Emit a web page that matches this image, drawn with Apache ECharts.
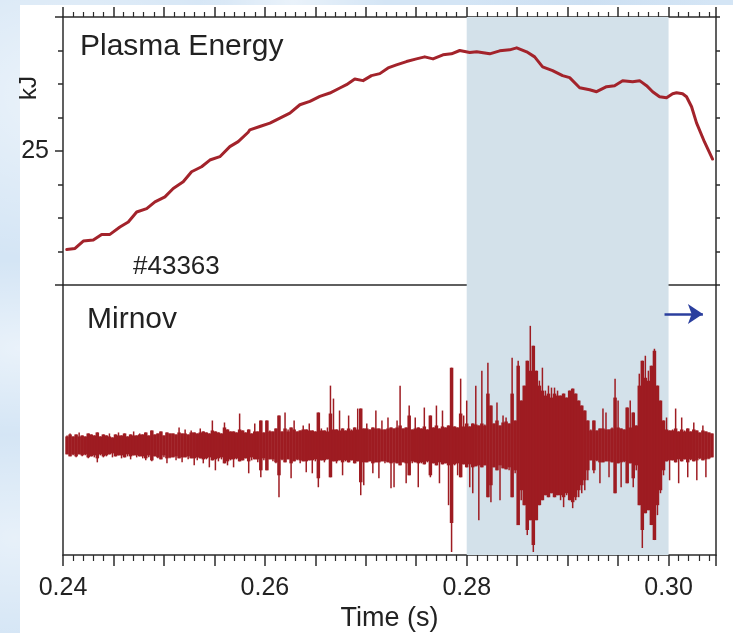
<!DOCTYPE html>
<html>
<head>
<meta charset="utf-8">
<script src="https://cdn.jsdelivr.net/npm/echarts@6/dist/echarts.min.js"></script>
<style>
  html, body { margin: 0; padding: 0; }
  body {
    width: 733px; height: 633px; overflow: hidden; position: relative;
    background-color: #d4e5f5;
    background-image:
      radial-gradient(ellipse at 8% 15%, rgba(255,255,255,0.55), rgba(255,255,255,0) 22%),
      radial-gradient(ellipse at 3% 55%, rgba(255,255,255,0.5), rgba(255,255,255,0) 18%),
      radial-gradient(ellipse at 2% 85%, rgba(255,255,255,0.45), rgba(255,255,255,0) 14%),
      radial-gradient(ellipse at 40% 0%, rgba(255,255,255,0.5), rgba(255,255,255,0) 15%),
      radial-gradient(ellipse at 80% 0%, rgba(200,220,240,0.6), rgba(255,255,255,0) 15%);
  }
  #paper { position: absolute; left: 20px; top: 5px; width: 713px; height: 628px; background: #ffffff; }
  #chart { position: absolute; left: 0; top: 0; width: 733px; height: 633px; }
</style>
</head>
<body>
<div id="paper"></div>
<div id="chart"></div>
<script>
// ---- Plasma energy (kJ) vs time (s) ----
const energyTime = [
  0.24037, 0.24119, 0.24201, 0.24300, 0.24383, 0.24465, 0.24564, 0.24647, 0.24730, 0.24829,
  0.24911, 0.25010, 0.25092, 0.25191, 0.25274, 0.25373, 0.25455, 0.25554, 0.25653, 0.25736,
  0.25835, 0.25851, 0.25950, 0.26050, 0.26149, 0.26248, 0.26347, 0.26446, 0.26545, 0.26644,
  0.26743, 0.26809, 0.26891, 0.26973, 0.27056, 0.27139, 0.27221, 0.27304, 0.27403, 0.27502,
  0.27584, 0.27666, 0.27765, 0.27849, 0.27931, 0.28030, 0.28099, 0.28228, 0.28327, 0.28426,
  0.28495, 0.28594, 0.28673, 0.28752, 0.28851, 0.28950, 0.29020, 0.29119, 0.29218, 0.29287,
  0.29386, 0.29465, 0.29545, 0.29644, 0.29713, 0.29782, 0.29842, 0.29911, 0.29980, 0.30040,
  0.30079, 0.30139, 0.30178, 0.30228, 0.30277, 0.30356, 0.30436
];
const energyKJ = [
  22.06, 22.09, 22.31, 22.34, 22.51, 22.51, 22.73, 22.88, 23.18, 23.28,
  23.48, 23.63, 23.88, 24.08, 24.38, 24.53, 24.73, 24.83, 25.13, 25.28,
  25.56, 25.63, 25.73, 25.83, 25.98, 26.13, 26.38, 26.48, 26.63, 26.73,
  26.88, 26.98, 27.15, 27.10, 27.25, 27.31, 27.48, 27.57, 27.67, 27.75,
  27.81, 27.75, 27.87, 27.90, 28.00, 27.94, 27.96, 27.90, 27.99, 28.02,
  28.08, 27.96, 27.81, 27.51, 27.40, 27.25, 27.19, 26.89, 26.83, 26.77,
  26.92, 26.95, 27.10, 27.07, 27.10, 26.95, 26.77, 26.62, 26.59, 26.71,
  26.74, 26.71, 26.62, 26.32, 25.84, 25.27, 24.76
];

// ---- Mirnov signal: per-sample max / min envelope (a.u.), one sample every mirnovStep seconds ----
const mirnovStart = 0.2404;
const mirnovStep = 0.0003;
const mirnovUpper = [
  10,12,9,11,13,10,9,12,11,10,
  13,9,11,10,12,8,11,13,10,12,
  9,11,14,10,12,11,13,10,15,11,
  12,14,10,13,12,12,11,18,12,16,
  11,15,13,12,17,14,13,12,25,14,
  13,12,23,16,14,
  14,13,32,15,13,
  16,12,22,14,25,13,25,15,14,17,
  30,14,33,16,18,25,14,15,20,16,
  22,15,14,33,17,15,18,60,47,16,
  35,17,15,30,16,18,37,37,17,22,
  16,18,35,17,25,16,28,18,17,25,
  60,
  17,18,40,16,28,18,17,38,16,
  30,18,40,17,35,18,20,78,19,18,
  67,30,45,19,22,60,20,75,21,83,
  40,22,43,20,30,28,22,88,25,85,
  45,
  60,85,120,100,75,65,78,55,60,
  58,58,55,50,52,48,55,57,52,45,
  40,35,25,
  16,25,15,17,37,33,16,
  18,67,45,17,16,38,45,33,20,72,
  85,90,75,80,97,60,45,25,
  28,15,16,37,14,28,15,17,14,23,15,13,20,14,13,12
];
const mirnovLower = [
  9,11,10,12,9,11,10,13,11,12,
  17,10,12,11,9,12,11,10,13,12,
  11,14,10,12,11,13,15,12,16,11,
  13,14,12,18,13,12,15,13,17,12,
  14,13,20,15,13,18,14,22,15,25,
  16,14,18,20,15,
  22,14,16,15,13,
  28,15,14,17,32,15,25,14,16,18,
  52,15,17,14,33,16,15,18,16,27,
  15,28,16,42,15,17,14,32,16,18,
  15,30,16,17,15,18,16,50,40,17,
  16,28,17,33,16,18,17,43,42,18,
  20,
  17,38,30,18,17,42,18,19,17,
  32,18,20,38,19,18,60,107,20,30,
  32,19,22,42,48,21,75,22,20,52,
  57,22,25,55,23,24,25,52,28,80,
  55,
  60,90,75,107,75,60,55,50,52,
  48,52,50,55,62,50,55,63,55,52,
  48,45,35,
  15,28,16,38,17,16,32,
  17,48,18,42,17,38,18,42,25,60,
  103,68,65,80,95,70,48,30,
  16,35,15,17,38,16,14,32,15,16,35,14,15,32,14,12
];

// ---- axis / annotation values ----
const xLabels = ['0.24', '0.26', '0.28', '0.30'];
const yLabels = ['25'];
const shadeRange = [0.28, 0.30];
const arrowFrom = [0.2996, 132];
const arrowTo = [0.3034, 132];

const FONT = "'Liberation Sans', Arial, Helvetica, sans-serif";
const AX = '#2b2b2b';
const RED_E = '#a3232b';
const RED_M = '#9e1c22';
const SHADE = '#d3e1ea';

const energyData = energyTime.map((t, i) => [t, energyKJ[i]]);
const mirnovData = mirnovUpper.map((u, i) => [mirnovStart + i * mirnovStep, u, -mirnovLower[i]]);

const axLine = { show: true, onZero: false, lineStyle: { color: AX, width: 1.5 } };
const xCommon = { type: 'value', min: 0.24, max: 0.3047, interval: 0.005, splitLine: { show: false } };

const chart = echarts.init(document.getElementById('chart'), null, { renderer: 'canvas' });
chart.setOption({
  animation: false,
  backgroundColor: 'transparent',
  textStyle: { fontFamily: FONT },
  grid: [
    { left: 63, top: 17, width: 653, height: 268 },
    { left: 63, top: 285, width: 653, height: 271 }
  ],
  xAxis: [
    Object.assign({}, xCommon, {
      gridIndex: 0, position: 'top', axisLine: axLine,
      axisTick: { show: true, inside: false, length: 10, lineStyle: { color: AX, width: 1.5 } },
      minorTick: { show: true, splitNumber: 5, length: 5, lineStyle: { color: AX, width: 1.2 } },
      axisLabel: { show: false }
    }),
    Object.assign({}, xCommon, {
      gridIndex: 0, position: 'bottom', axisLine: axLine,
      axisTick: { show: false }, minorTick: { show: false }, axisLabel: { show: false }
    }),
    Object.assign({}, xCommon, {
      gridIndex: 1, position: 'bottom', axisLine: axLine,
      axisTick: { show: true, inside: false, length: 11, lineStyle: { color: AX, width: 1.5 } },
      minorTick: { show: true, splitNumber: 5, length: 6, lineStyle: { color: AX, width: 1.2 } },
      axisLabel: {
        show: true, margin: 21, fontSize: 25, color: '#222', fontFamily: FONT,
        showMinLabel: true, showMaxLabel: false,
        formatter: v => { const s = v.toFixed(2); return (Math.abs(v - parseFloat(s)) < 1e-7 && xLabels.indexOf(s) >= 0) ? s : ''; }
      },
      name: 'Time (s)', nameLocation: 'middle', nameGap: 50,
      nameTextStyle: { fontSize: 27, color: '#222', fontFamily: FONT }
    })
  ],
  yAxis: [
    {
      gridIndex: 0, type: 'value', min: 21, max: 29, interval: 4, position: 'left',
      axisLine: axLine, splitLine: { show: false },
      axisTick: { show: true, inside: false, length: 8, lineStyle: { color: AX, width: 1.5 } },
      minorTick: { show: true, splitNumber: 4, length: 5, lineStyle: { color: AX, width: 1.5 } },
      axisLabel: {
        show: true, margin: 14, fontSize: 25, color: '#222', fontFamily: FONT,
        formatter: v => yLabels.indexOf(String(v)) >= 0 ? String(v) : ''
      }
    },
    {
      gridIndex: 0, type: 'value', min: 21, max: 29, interval: 4, position: 'right',
      axisLine: axLine, splitLine: { show: false },
      axisTick: { show: true, inside: false, length: 4, lineStyle: { color: AX, width: 1.5 } },
      minorTick: { show: true, splitNumber: 4, length: 4, lineStyle: { color: AX, width: 1.5 } },
      axisLabel: { show: false }
    },
    {
      gridIndex: 1, type: 'value', min: -110, max: 161, position: 'left',
      axisLine: axLine, splitLine: { show: false }, axisTick: { show: false }, axisLabel: { show: false }
    },
    {
      gridIndex: 1, type: 'value', min: -110, max: 161, position: 'right',
      axisLine: axLine, splitLine: { show: false }, axisTick: { show: false }, axisLabel: { show: false }
    }
  ],
  series: [
    {
      name: 'Plasma Energy', type: 'line', xAxisIndex: 0, yAxisIndex: 0,
      data: energyData, symbol: 'none', z: 3,
      lineStyle: { color: RED_E, width: 3, join: 'round', cap: 'round' },
      markArea: {
        silent: true, itemStyle: { color: SHADE },
        data: [[{ xAxis: shadeRange[0] }, { xAxis: shadeRange[1] }]]
      }
    },
    {
      name: 'shade', type: 'line', xAxisIndex: 2, yAxisIndex: 2, data: [], z: 1,
      markArea: {
        silent: true, itemStyle: { color: SHADE },
        data: [[{ xAxis: shadeRange[0] }, { xAxis: shadeRange[1] }]]
      },
      markLine: {
        silent: true, symbol: ['none', 'arrow'], symbolSize: 15,
        label: { show: false },
        lineStyle: { color: '#2b3f9e', width: 2.5, type: 'solid' },
        data: [[{ coord: arrowFrom }, { coord: arrowTo }]]
      }
    },
    {
      name: 'Mirnov', type: 'custom', xAxisIndex: 2, yAxisIndex: 2, z: 3, clip: true,
      data: mirnovData,
      encode: { x: 0, y: [1, 2] },
      renderItem: function (params, api) {
        const t = api.value(0), hi = api.value(1), lo = api.value(2);
        const core = Math.min(hi, -lo);
        const top = api.coord([t, hi]);
        const bot = api.coord([t, lo]);
        const cTop = api.coord([t, core]);
        const cBot = api.coord([t, -core]);
        const full = api.size([mirnovStep, 0])[0] + 0.5;
        const thin = 1.5;
        return {
          type: 'group',
          children: [
            { type: 'rect', shape: { x: cTop[0] - full / 2, y: cTop[1], width: full, height: cBot[1] - cTop[1] }, style: { fill: RED_M } },
            { type: 'rect', shape: { x: top[0] - thin / 2, y: top[1], width: thin, height: bot[1] - top[1] }, style: { fill: RED_M } }
          ]
        };
      }
    }
  ],
  graphic: [
    { type: 'text', x: 80, y: 47, style: { text: 'Plasma Energy', font: '30px ' + FONT, fill: '#222', textVerticalAlign: 'middle' } },
    { type: 'text', x: 87, y: 320, style: { text: 'Mirnov', font: '30px ' + FONT, fill: '#222', textVerticalAlign: 'middle' } },
    { type: 'text', x: 133, y: 267, style: { text: '#43363', font: '26px ' + FONT, fill: '#222', textVerticalAlign: 'middle' } },
    { type: 'text', x: 29, y: 88, rotation: Math.PI / 2, style: { text: 'kJ', font: '24px ' + FONT, fill: '#222', textAlign: 'center', textVerticalAlign: 'middle' } }
  ]
});
</script>
</body>
</html>
